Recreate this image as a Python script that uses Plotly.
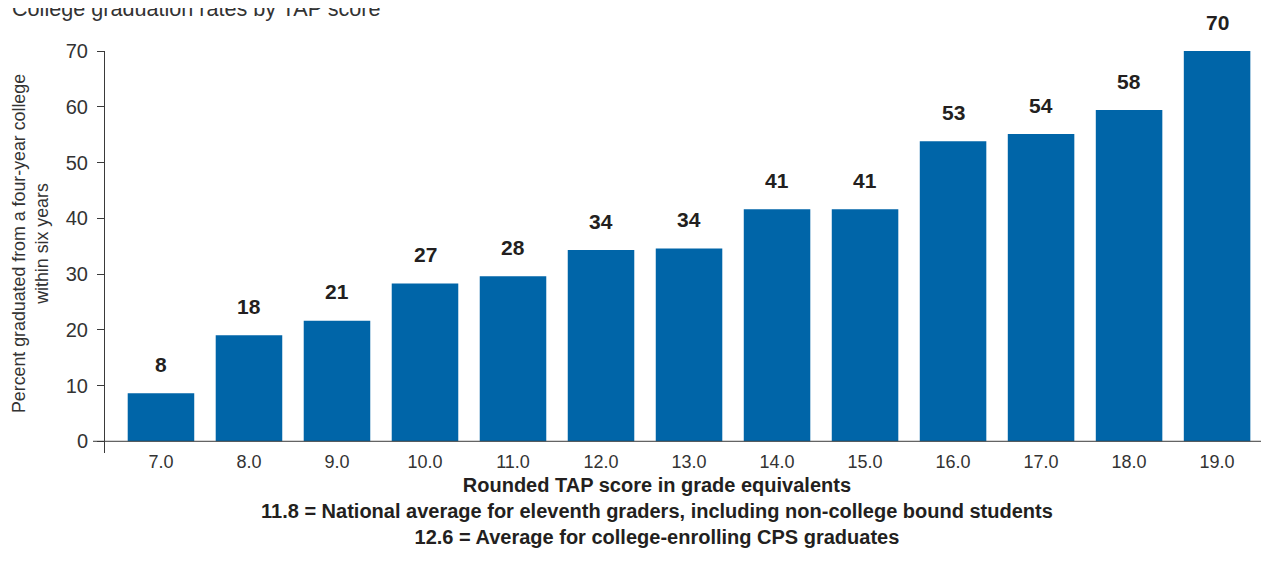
import plotly.graph_objects as go

# Data
tap_scores = ["7.0", "8.0", "9.0", "10.0", "11.0", "12.0", "13.0",
              "14.0", "15.0", "16.0", "17.0", "18.0", "19.0"]
grad_rates = [8.6, 19.0, 21.6, 28.3, 29.6, 34.3, 34.6,
              41.6, 41.6, 53.8, 55.1, 59.4, 70.0]
rate_labels = ["8", "18", "21", "27", "28", "34", "34",
               "41", "41", "53", "54", "58", "70"]
y_ticks = [0, 10, 20, 30, 40, 50, 60, 70]

title_text = "College graduation rates by TAP score"
y_title = "Percent graduated from a four-year college<br>within six years"
x_title_lines = ["Rounded TAP score in grade equivalents",
                 "11.8 = National average for eleventh graders, including non-college bound students",
                 "12.6 = Average for college-enrolling CPS graduates"]

BAR = "#0065A8"
TXT = "#231F20"
AX = "#3a3a3a"
REG = "Liberation Sans, Arial, sans-serif"

# page body has an 8px margin; figure is sized so the page is 1269x576
W, H = 1261, 568
L, T, B = 97, 43, 123
PW = W - L
PH = H - T - B

fig = go.Figure()
fig.add_trace(go.Bar(
    x=tap_scores, y=grad_rates, marker=dict(color=BAR, line=dict(width=0)),
    hoverinfo="skip",
))

for i, (ys, lab) in enumerate(zip(grad_rates, rate_labels)):
    fig.add_annotation(x=i, y=ys, text="<b>%s</b>" % lab, showarrow=False,
                       yanchor="middle", yshift=29,
                       font=dict(family=REG, size=21, color=TXT))

# x-axis baseline
fig.add_shape(type="line", xref="paper", yref="y", x0=-12 / PW, x1=1, y0=0, y1=0,
              line=dict(color=AX, width=1))

def px_x(x):
    return (x - 8 - L) / PW

def px_y(y):
    return (H - B - (y - 8)) / PH

fig.add_annotation(text=title_text, xref="paper", yref="paper",
                   x=px_x(10), y=px_y(23),
                   xanchor="left", yanchor="bottom", showarrow=False,
                   font=dict(family=REG, size=21.6, color="#333333"))

fig.add_annotation(text=y_title, xref="paper", yref="paper",
                   x=px_x(30), y=px_y(244), textangle=-90,
                   xanchor="center", yanchor="middle", showarrow=False,
                   font=dict(family=REG, size=17.8, color="#333333"))

fig.add_annotation(text="<br>".join("<b>%s</b>" % s for s in x_title_lines),
                   xref="paper", yref="paper",
                   x=px_x(657), y=px_y(511),
                   xanchor="center", yanchor="middle", showarrow=False,
                   font=dict(family=REG, size=20, color=TXT))

fig.update_layout(
    width=W, height=H,
    margin=dict(l=L, r=0, t=T, b=B, autoexpand=False),
    paper_bgcolor="white", plot_bgcolor="white",
    bargap=0.244, showlegend=False,
    xaxis=dict(type="category", range=[-0.636, 12.59], showline=False,
               showgrid=False, zeroline=False, ticks="",
               ticklabelstandoff=-4,
               tickfont=dict(family=REG, size=18, color="#333333")),
    yaxis=dict(range=[-2.1, 70], tickvals=y_ticks, showline=True,
               linecolor=AX, linewidth=1, ticks="outside", ticklen=7,
               tickcolor=AX, showgrid=False, zeroline=False,
               ticklabelstandoff=5,
               tickfont=dict(family=REG, size=20, color="#333333")),
)

fig.write_html("out.html")
